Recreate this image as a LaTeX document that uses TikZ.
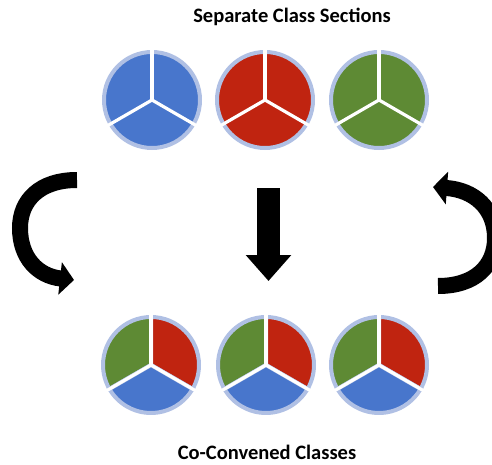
\documentclass[tikz,border=0pt]{standalone}
\usepackage{fontspec}
\setmainfont{Carlito}
\usepackage{xcolor}
\usepackage{tikz}
\usetikzlibrary{arrows.meta, calc}

\definecolor{pieblue}{RGB}{72,118,204}
\definecolor{piered}{RGB}{192,36,16}
\definecolor{piegreen}{RGB}{94,138,52}
\definecolor{pierim}{RGB}{176,192,228}

\begin{document}
\begin{tikzpicture}%
	[x=1pt, y=-1pt,
	rim/.style={draw=pierim, line width=4pt},
	spoke/.style={draw=white, line width=3.2pt},
	bigarrow/.style={draw=black, line width=16pt},
	title/.style={font=\bfseries\fontsize{20.5}{23}\selectfont, inner sep=0pt}]
%
\useasboundingbox (0,0) rectangle (492,465);
%
%% Centres of the pies
%%
\coordinate (top1) at (152,100);
\coordinate (top2) at (265,100);
\coordinate (top3) at (379,100);
\coordinate (bot1) at (151,365);
\coordinate (bot2) at (266,365);
\coordinate (bot3) at (379,365);
%%
%% Titles
%%
\node[title] (sep) at (292,17) {Separate Class Sections};
\node[title] (con) at (267,452) {Co-Convened Classes};
%%
%% Separate sections, one colour each
%%
\foreach \c/\col in {top1/pieblue, top2/piered, top3/piegreen}{
	\filldraw[fill=\col, rim] (\c) circle (48);
	\foreach \a in {90,210,330}
		\draw[spoke] (\c) -- ($(\c)+(\a:-54)$);
}
%%
%% Co-convened classes, three colours each
%%
\foreach \c in {bot1, bot2, bot3}{
	\filldraw[fill=piegreen, rim] (\c) -- ($(\c)+(0,-48)$) arc (-90:-210:48) -- cycle;
	\filldraw[fill=piered, rim] (\c) -- ($(\c)+(0,-48)$) arc (-90:30:48) -- cycle;
	\filldraw[fill=pieblue, rim] (\c) -- ($(\c)+(30:48)$) arc (30:150:48) -- cycle;
	\foreach \a in {90,210,330}
		\draw[spoke] (\c) -- ($(\c)+(\a:-54)$);
}
%%
%% Arrows
%%
\coordinate (downtail) at (268.5,188);
\coordinate (downtip) at (268.5,281);
\draw[line width=23pt, -{Triangle[length=26pt, width=44pt]}] (downtail) -- (downtip);
%
\coordinate (lefttail) at (77,180);
\coordinate (lefttip) at (74,280);
\draw[bigarrow, -{Triangle[length=14pt, width=32pt]}] (lefttail) .. controls (40,180) and (20,200) .. (20,228) .. controls (20,258) and (38,276) .. (lefttip);
%
\coordinate (righttail) at (438,286);
\coordinate (righttip) at (433,187);
\draw[bigarrow, -{Triangle[length=14pt, width=32pt]}] (righttail) .. controls (475,286) and (495,266) .. (495,238) .. controls (495,208) and (474,190) .. (righttip);
%%
\end{tikzpicture}
\end{document}
